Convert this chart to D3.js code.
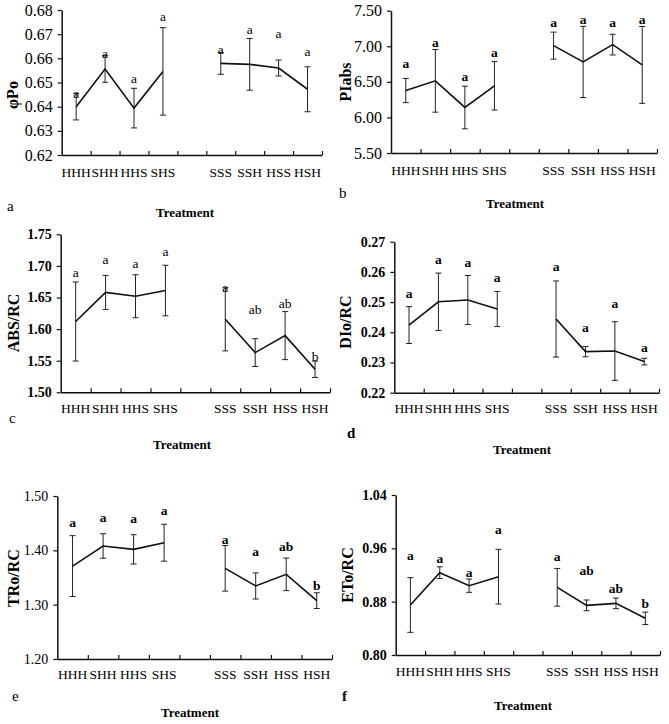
<!DOCTYPE html>
<html>
<head>
<meta charset="utf-8">
<script src="https://cdn.jsdelivr.net/npm/d3@7"></script>
<style>
  body { margin: 0; background: #fff; }
  svg text { font-family: "Liberation Serif", "Times New Roman", serif; fill: #000; }
</style>
</head>
<body>
<script>
// category slots, with an empty slot between the two groups
var slots = ["HHH", "SHH", "HHS", "SHS", "", "SSS", "SSH", "HSS", "HSH"];
var treatments = ["HHH", "SHH", "HHS", "SHS", "SSS", "SSH", "HSS", "HSH"];

// a: phiPo
var phiPoMean = [0.640, 0.6556, 0.6394, 0.6546, 0.6579, 0.6575, 0.6560, 0.6472];
var phiPoErr = [0.0055, 0.0055, 0.0082, 0.0181, 0.0045, 0.0107, 0.0033, 0.0093];
var phiPoSig = ["a", "a", "a", "a", "a", "a", "a", "a"];
var phiPoSigAt = [0.6437, 0.6600, 0.6497, 0.6756, 0.6618, 0.6699, 0.6683, 0.6610];
var phiPoTicks = [0.62, 0.63, 0.64, 0.65, 0.66, 0.67, 0.68];

// b: PIabs
var piAbsMean = [6.378, 6.514, 6.140, 6.444, 7.009, 6.780, 7.023, 6.738];
var piAbsErr = [0.17, 0.44, 0.30, 0.34, 0.19, 0.50, 0.145, 0.54];
var piAbsSig = ["a", "a", "a", "a", "a", "a", "a", "a"];
var piAbsSigAt = [6.692, 6.986, 6.505, 6.846, 7.266, 7.313, 7.266, 7.313];
var piAbsTicks = [5.5, 6.0, 6.5, 7.0, 7.5];

// c: ABS/RC
var absMean = [1.612, 1.658, 1.652, 1.661, 1.6155, 1.5628, 1.5897, 1.5364];
var absErr = [0.0625, 0.027, 0.034, 0.040, 0.050, 0.022, 0.038, 0.013];
var absSig = ["a", "a", "a", "a", "a", "ab", "ab", "b"];
var absSigAt = [1.683, 1.7025, 1.6962, 1.7162, 1.6593, 1.6234, 1.634, 1.5496];
var absTicks = [1.50, 1.55, 1.60, 1.65, 1.70, 1.75];

// d: DIo/RC
var dioMean = [0.2424, 0.2501, 0.2507, 0.2477, 0.2444, 0.2336, 0.2338, 0.2303];
var dioErr = [0.0061, 0.0095, 0.0081, 0.0058, 0.0126, 0.0017, 0.0097, 0.0011];
var dioSig = ["a", "a", "a", "a", "a", "a", "a", "a"];
var dioSigAt = [0.2512, 0.2626, 0.2615, 0.2565, 0.2603, 0.2400, 0.2479, 0.2334];
var dioTicks = [0.22, 0.23, 0.24, 0.25, 0.26, 0.27];

// e: TRo/RC
var troMean = [1.371, 1.408, 1.4018, 1.414, 1.3669, 1.3344, 1.3558, 1.3074];
var troErr = [0.056, 0.0225, 0.027, 0.034, 0.042, 0.024, 0.030, 0.0145];
var troSig = ["a", "a", "a", "a", "a", "a", "ab", "b"];
var troSigAt = [1.4423, 1.4515, 1.4497, 1.465, 1.411, 1.390, 1.3994, 1.327];
var troTicks = [1.20, 1.30, 1.40, 1.50];

// f: ETo/RC
var etoMean = [0.875, 0.9235, 0.904, 0.9175, 0.9015, 0.8745, 0.8775, 0.855];
var etoErr = [0.041, 0.0088, 0.010, 0.041, 0.0283, 0.008, 0.008, 0.0093];
var etoSig = ["a", "a", "a", "a", "a", "ab", "ab", "b"];
var etoSigAt = [0.9425, 0.9375, 0.9175, 0.9815, 0.9415, 0.92, 0.8925, 0.87];
var etoTicks = [0.80, 0.88, 0.96, 1.04];

var panels = [
  {id: "a", title: "\u03c6Po", mean: phiPoMean, err: phiPoErr, sig: phiPoSig, sigAt: phiPoSigAt, ticks: phiPoTicks,
   left: 61.7, right: 322, top: 10, bottom: 155, tickFont: 16, tickBold: false, sigBold: false,
   xLabY: 177, titleX: 18, titleY: 95, tagX: 7, tagY: 211, tagBold: false, trX: 185, trY: 217},
  {id: "b", title: "PIabs", mean: piAbsMean, err: piAbsErr, sig: piAbsSig, sigAt: piAbsSigAt, ticks: piAbsTicks,
   left: 391, right: 657, top: 10.7, bottom: 153, tickFont: 16, tickBold: false, sigBold: true,
   xLabY: 175, titleX: 351, titleY: 82, tagX: 339, tagY: 198, tagBold: false, trX: 515, trY: 208},
  {id: "c", title: "ABS/RC", mean: absMean, err: absErr, sig: absSig, sigAt: absSigAt, ticks: absTicks,
   left: 60.7, right: 330, top: 234.3, bottom: 392.3, tickFont: 14, tickBold: true, sigBold: false,
   xLabY: 413, titleX: 19, titleY: 323, tagX: 9, tagY: 423, tagBold: false, trX: 182, trY: 449},
  {id: "d", title: "DIo/RC", mean: dioMean, err: dioErr, sig: dioSig, sigAt: dioSigAt, ticks: dioTicks,
   left: 394.3, right: 659, top: 241.7, bottom: 392.7, tickFont: 14, tickBold: true, sigBold: true,
   xLabY: 413, titleX: 351, titleY: 322, tagX: 347, tagY: 438, tagBold: true, trX: 522, trY: 454},
  {id: "e", title: "TRo/RC", mean: troMean, err: troErr, sig: troSig, sigAt: troSigAt, ticks: troTicks,
   left: 57.3, right: 332, top: 496, bottom: 659, tickFont: 14, tickBold: false, sigBold: true,
   xLabY: 679, titleX: 19, titleY: 578, tagX: 12, tagY: 701, tagBold: false, trX: 190, trY: 717},
  {id: "f", title: "ETo/RC", mean: etoMean, err: etoErr, sig: etoSig, sigAt: etoSigAt, ticks: etoTicks,
   left: 395.7, right: 660, top: 495, bottom: 655, tickFont: 14, tickBold: true, sigBold: true,
   xLabY: 676, titleX: 353, titleY: 575, tagX: 342, tagY: 701, tagBold: true, trX: 523, trY: 710}
];

var svg = d3.select("body").append("svg")
  .attr("width", 669)
  .attr("height", 724);

panels.forEach(function(p) {
  var g = svg.append("g").attr("class", "panel-" + p.id);
  var x = d3.scaleBand().domain(slots).range([p.left, p.right]).padding(0);
  var xEdge = d3.scaleLinear().domain([0, slots.length]).range([p.left, p.right]);
  var y = d3.scaleLinear().domain(d3.extent(p.ticks)).range([p.bottom, p.top]);

  // y axis
  var ya = g.append("g")
    .attr("transform", "translate(" + p.left + ",0)")
    .call(d3.axisLeft(y).tickValues(p.ticks).tickSize(4).tickSizeOuter(0).tickPadding(5)
      .tickFormat(d3.format(".2f")));
  ya.select(".domain").attr("stroke", "#111").attr("stroke-width", 1.5);
  ya.selectAll(".tick line").attr("stroke", "#111").attr("stroke-width", 1.2);
  ya.selectAll(".tick text")
    .style("font-family", "Liberation Serif, serif")
    .style("font-size", p.tickFont + "px")
    .style("font-weight", p.tickBold ? "bold" : "normal")
    .attr("fill", "#000");

  // x axis, tick marks between categories
  var xa = g.append("g")
    .attr("transform", "translate(0," + p.bottom + ")")
    .call(d3.axisBottom(xEdge).tickValues(d3.range(1, slots.length + 1)).tickSize(-4).tickSizeOuter(0)
      .tickFormat(""));
  xa.select(".domain").attr("stroke", "#111").attr("stroke-width", 1.5);
  xa.selectAll(".tick line").attr("stroke", "#111").attr("stroke-width", 1.2);

  g.selectAll("text.cat").data(treatments).enter()
    .append("text")
    .attr("class", "cat")
    .attr("x", function(d) { return x(d) + x.bandwidth() / 2; })
    .attr("y", p.xLabY)
    .attr("text-anchor", "middle")
    .style("font-size", "13.5px")
    .text(function(d) { return d; });

  var rows = treatments.map(function(t, i) {
    return {t: t, m: p.mean[i], e: p.err[i], s: p.sig[i], at: p.sigAt[i], grp: i < 4 ? 0 : 1};
  });
  var cx = function(d) { return x(d.t) + x.bandwidth() / 2; };

  // error bars
  var eb = g.selectAll("g.eb").data(rows).enter().append("g").attr("class", "eb");
  eb.append("line")
    .attr("x1", cx).attr("x2", cx)
    .attr("y1", function(d) { return y(d.m + d.e); })
    .attr("y2", function(d) { return y(d.m - d.e); })
    .attr("stroke", "#222").attr("stroke-width", 1);
  [1, -1].forEach(function(sgn) {
    eb.append("line")
      .attr("x1", function(d) { return cx(d) - 3; })
      .attr("x2", function(d) { return cx(d) + 3; })
      .attr("y1", function(d) { return y(d.m + sgn * d.e); })
      .attr("y2", function(d) { return y(d.m + sgn * d.e); })
      .attr("stroke", "#222").attr("stroke-width", 1);
  });

  // mean lines, one for each group
  var line = d3.line().x(cx).y(function(d) { return y(d.m); });
  [0, 1].forEach(function(k) {
    g.append("path")
      .datum(rows.filter(function(d) { return d.grp === k; }))
      .attr("d", line)
      .attr("fill", "none")
      .attr("stroke", "#111")
      .attr("stroke-width", 1.6);
  });

  // significance letters
  g.selectAll("text.sig").data(rows).enter()
    .append("text")
    .attr("class", "sig")
    .attr("x", cx)
    .attr("y", function(d) { return y(d.at); })
    .attr("text-anchor", "middle")
    .style("font-size", "13.5px")
    .style("font-weight", p.sigBold ? "bold" : "normal")
    .text(function(d) { return d.s; });

  // y title
  g.append("text")
    .attr("transform", "translate(" + p.titleX + "," + p.titleY + ") rotate(-90)")
    .attr("text-anchor", "middle")
    .style("font-size", "16px")
    .style("font-weight", "bold")
    .text(p.title);

  // x title
  g.append("text")
    .attr("x", p.trX).attr("y", p.trY)
    .attr("text-anchor", "middle")
    .style("font-size", "13px")
    .style("font-weight", "bold")
    .text("Treatment");

  // panel tag
  g.append("text")
    .attr("x", p.tagX).attr("y", p.tagY)
    .style("font-size", "15px")
    .style("font-weight", p.tagBold ? "bold" : "normal")
    .text(p.id);
});
</script>
</body>
</html>
